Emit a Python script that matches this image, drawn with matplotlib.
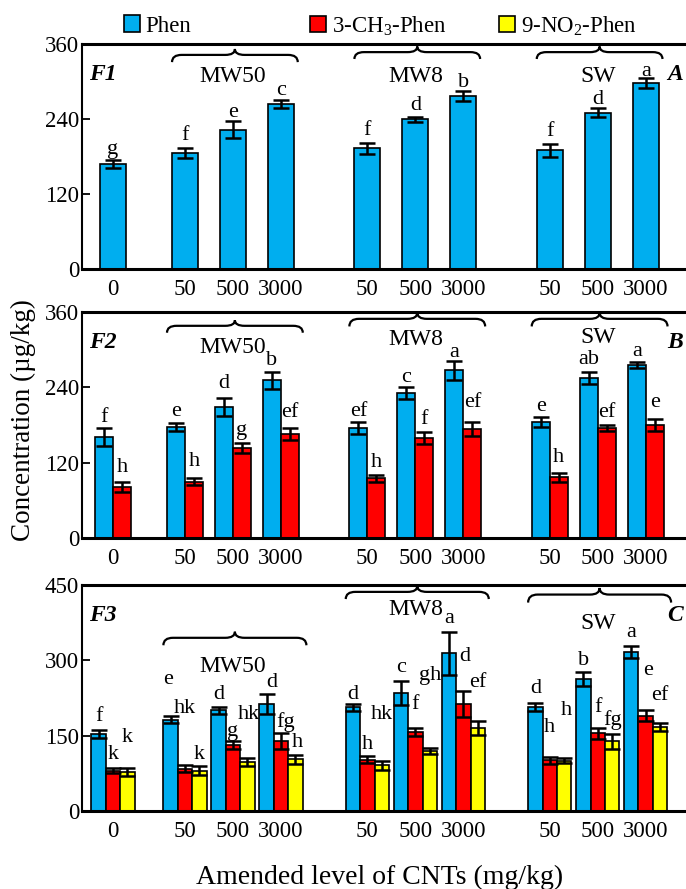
import matplotlib
matplotlib.use('Agg')
import matplotlib.pyplot as plt
from matplotlib.path import Path
from matplotlib.patches import PathPatch

plt.rcParams['font.family'] = ['Liberation Serif', 'DejaVu Serif']
plt.rcParams['mathtext.fontset'] = 'custom'
plt.rcParams['mathtext.rm'] = 'Liberation Serif'
plt.rcParams['mathtext.it'] = 'Liberation Serif:italic'
plt.rcParams['mathtext.bf'] = 'Liberation Serif:bold'

# ---------------- data ----------------
tick_labels = ['0', '50', '500', '3000', '50', '500', '3000', '50', '500', '3000']
group_names = ['MW50', 'MW8', 'SW']
series_names = ['Phen', '3-CH$_3$-Phen', '9-NO$_2$-Phen']

# Panel A (F1)
a_phen = [168, 185, 223, 264, 193, 240, 277, 190, 250, 297]
a_phen_err = [7, 8, 14, 7, 9, 4, 8, 10, 7, 8]
a_phen_let = ['g', 'f', 'e', 'c', 'f', 'd', 'b', 'f', 'd', 'a']

# Panel B (F2)
b_phen = [161, 177, 209, 251, 175, 231, 267, 185, 255, 275]
b_phen_err = [14, 6, 14, 14, 10, 9, 15, 8, 10, 5]
b_phen_let = ['f', 'e', 'd', 'b', 'ef', 'c', 'a', 'e', 'ab', 'a']
b_ch3 = [81, 90, 143, 166, 95, 159, 173, 97, 175, 180]
b_ch3_err = [8, 6, 8, 10, 6, 10, 11, 7, 5, 10]
b_ch3_let = ['h', 'h', 'g', 'ef', 'h', 'f', 'ef', 'h', 'ef', 'e']

# Panel C (F3)
c_phen = [153, 182, 201, 213, 207, 235, 314, 207, 263, 317]
c_phen_err = [8, 7, 7, 19, 7, 23, 43, 8, 14, 12]
c_phen_let = ['f', 'e', 'd', 'd', 'd', 'c', 'a', 'd', 'b', 'a']
c_ch3 = [80, 84, 131, 139, 102, 158, 213, 101, 155, 190]
c_ch3_err = [5, 7, 8, 16, 7, 8, 25, 7, 11, 11]
c_ch3_let = ['k', 'hk', 'g', 'fg', 'h', 'f', 'd', 'h', 'f', 'e']
c_no2 = [78, 80, 97, 103, 91, 119, 165, 100, 139, 168]
c_no2_err = [8, 9, 8, 9, 9, 6, 14, 5, 15, 8]
c_no2_let = ['k', 'k', 'hk', 'h', 'hk', 'gh', 'ef', 'h', 'fg', 'ef']

# ---------------- layout ----------------
xpos = [0, 1.5, 2.5, 3.5, 5.3, 6.3, 7.3, 9.1, 10.1, 11.1]
groups_idx = [(1, 3), (4, 6), (7, 9)]
colors = ['#00AEEF', '#FF0000', '#FFFF00']

# label offsets above error-bar tops (data units)
a_off = [[9, 13, 7, 7, 13, 10, 6, 12, 7, 4]]
b_off = [[10, 11, 16, 10, 9, 8, 6, 10, 12, 10],
         [16, 18, 13, 17, 12, 12, 24, 17, 13, 18]]
c_off = [[19, 64, 15, 15, 10, 19, 18, 20, 14, 18],
         [19, 104, 11, 13, 15, 37, 61, 50, 32, 70],
         [52, 14, 79, 16, 83, 136, 68, 86, 18, 46]]
# small horizontal nudges of labels (x units)
a_dx = [[0] * 10]
b_dx = [[0] * 10, [0] * 10]
c_dx = [[0, -0.06, 0, 0.1, 0, 0, 0, 0, 0, 0],
        [0, 0, 0, 0.1, 0, 0, 0.04, 0, 0, 0.04],
        [0, 0, 0.03, 0.05, 0, 0, 0, 0.04, 0, 0]]

W, H = 686, 889
left_px = 82

panels = [
    dict(series=[(a_phen, a_phen_err, a_phen_let)], off=a_off, dx=a_dx, ymax=360,
         yticks=[0, 120, 240, 360], width=0.54, top=44, bottom=269,
         braces=[(331, 352), (336, 356), (336, 356)], glab=[300, 300, 300],
         tag='F1', letter='A', tag_y=302),
    dict(series=[(b_phen, b_phen_err, b_phen_let), (b_ch3, b_ch3_err, b_ch3_let)],
         off=b_off, dx=b_dx, ymax=360, yticks=[0, 120, 240, 360], width=0.375,
         top=312, bottom=538,
         braces=[(327, 347), (337, 359), (337, 359)], glab=[295, 307, 310],
         tag='F2', letter='B', tag_y=303),
    dict(series=[(c_phen, c_phen_err, c_phen_let), (c_ch3, c_ch3_err, c_ch3_let),
                 (c_no2, c_no2_err, c_no2_let)],
         off=c_off, dx=c_dx, ymax=450, yticks=[0, 150, 300, 450], width=0.30,
         top=585, bottom=811,
         braces=[(330, 357), (422, 448), (415, 444)], glab=[277, 390, 362],
         tag='F3', letter='C', tag_y=379),
]


def brace(ax, x0, x1, ye, yt, r=0.2, lw=1.6):
    xm = (x0 + x1) / 2
    yb = ye + 0.55 * (yt - ye)
    verts = [(x0, ye), (x0, yb), (x0 + r, yb),
             (xm - r, yb), (xm, yb), (xm, yt),
             (xm, yb), (xm + r, yb),
             (x1 - r, yb), (x1, yb), (x1, ye)]
    codes = [Path.MOVETO, Path.CURVE3, Path.CURVE3,
             Path.LINETO, Path.CURVE3, Path.CURVE3,
             Path.CURVE3, Path.CURVE3,
             Path.LINETO, Path.CURVE3, Path.CURVE3]
    ax.add_patch(PathPatch(Path(verts, codes), fill=False, lw=lw,
                           edgecolor='black', clip_on=False))


fig = plt.figure(figsize=(W / 100, H / 100), dpi=100)
handles = []
for p in panels:
    ax = fig.add_axes([left_px / W, 1 - p['bottom'] / H,
                       1 - left_px / W, (p['bottom'] - p['top']) / H])
    n = len(p['series'])
    w = p['width']
    for i, (vals, errs, lets) in enumerate(p['series']):
        dx = (i - (n - 1) / 2) * w
        xs = [x + dx for x in xpos]
        b = ax.bar(xs, vals, width=w, color=colors[i], edgecolor='black',
                   linewidth=1.2, zorder=2)
        ax.errorbar(xs, vals, yerr=errs, fmt='none', ecolor='black',
                    elinewidth=1.8, capsize=5.5, capthick=1.8, zorder=3)
        if n == 3:
            handles.append(b)
        for x, v, e, t, o, nd in zip(xs, vals, errs, lets, p['off'][i], p['dx'][i]):
            ax.text(x + nd, v + e + o, t, ha='center', va='baseline', fontsize=16)
    for (g0, g1), (ye, yt), ly, name in zip(groups_idx, p['braces'], p['glab'],
                                              group_names):
        half = n * w / 2
        x0 = xpos[g0] - half
        x1 = xpos[g1] + half + 0.08
        brace(ax, x0, x1, ye, yt)
        ax.text((xpos[g0] + xpos[g1]) / 2, ly, name, ha='center',
                va='baseline', fontsize=17)
    ax.text(-0.5, p['tag_y'], p['tag'], fontsize=17, fontweight='bold',
            fontstyle='italic', va='baseline', ha='left')
    ax.text(11.55, p['tag_y'], p['letter'], fontsize=17, fontweight='bold',
            fontstyle='italic', va='baseline', ha='left', clip_on=False)
    ax.set_xlim(-0.646, 11.94)
    ax.set_ylim(0, p['ymax'])
    ax.set_yticks(p['yticks'])
    ax.set_xticks(xpos)
    ax.set_xticklabels(tick_labels)
    ax.tick_params(axis='x', length=0, pad=7, labelsize=16.5)
    ax.tick_params(axis='y', direction='in', length=6, width=1.3, pad=2,
                   labelsize=16.5)
    ax.spines['right'].set_visible(False)
    ax.spines['left'].set_linewidth(1.5)
    ax.spines['bottom'].set_linewidth(2.2)
    ax.spines['top'].set_linewidth(2.2)

# legend entries placed individually
for h, name, xp in zip(handles, series_names, [124, 310, 499]):
    fig.legend([h], [name], loc='center left',
               bbox_to_anchor=(xp / W, 1 - 26 / H), frameon=False,
               handlelength=0.7, handleheight=0.7, handletextpad=0.25,
               borderpad=0, borderaxespad=0, fontsize=16.5)

fig.text(23 / W, 1 - 420 / H, 'Concentration (µg/kg)', rotation=90,
         ha='center', va='center', fontsize=19.5)
fig.text(380 / W, 1 - 877 / H, 'Amended level of CNTs (mg/kg)',
         ha='center', va='center', fontsize=20)

fig.savefig('out.png', dpi=100)
